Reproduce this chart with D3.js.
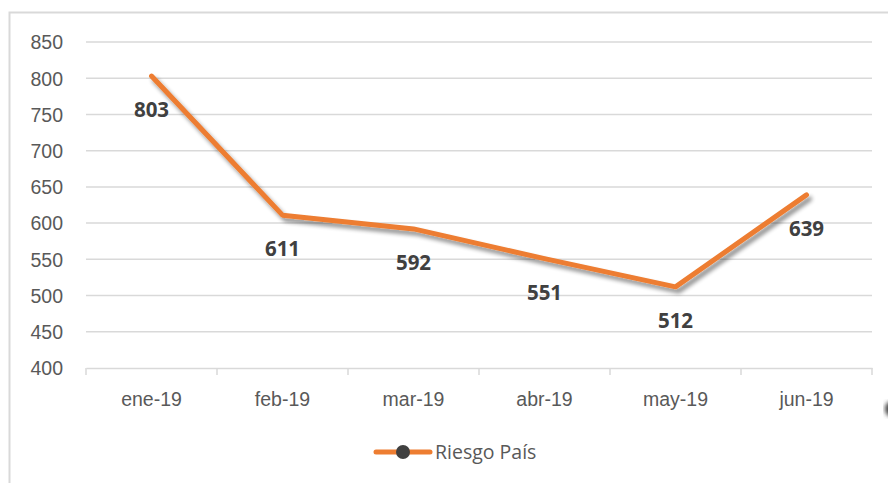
<!DOCTYPE html>
<html>
<head>
<meta charset="utf-8">
<script src="https://cdn.jsdelivr.net/npm/d3@7/dist/d3.min.js"></script>
<style>
  body { margin: 0; background: #fff; }
  svg { display: block; font-family: "Open Sans", "Noto Sans", sans-serif; }
</style>
</head>
<body>
<div id="chart"></div>
<script>
const months = ["ene-19", "feb-19", "mar-19", "abr-19", "may-19", "jun-19"];
const riesgo = [803, 611, 592, 551, 512, 639];
const yTicks = [400, 450, 500, 550, 600, 650, 700, 750, 800, 850];
const seriesName = "Riesgo País";

const W = 888, H = 483;
const plot = { left: 86, right: 872, top: 42, bottom: 368 };

const svg = d3.select("#chart").append("svg")
    .attr("width", W)
    .attr("height", H);

const defs = svg.append("defs");
const shadow = defs.append("filter").attr("id", "shadow")
    .attr("x", "-20%").attr("y", "-20%").attr("width", "140%").attr("height", "140%");
shadow.append("feGaussianBlur").attr("in", "SourceAlpha").attr("stdDeviation", 2.2);
shadow.append("feOffset").attr("dx", 3).attr("dy", 4).attr("result", "b");
shadow.append("feComponentTransfer").append("feFuncA").attr("type", "linear").attr("slope", 0.45);
const merge = shadow.append("feMerge");
merge.append("feMergeNode");
merge.append("feMergeNode").attr("in", "SourceGraphic");

const blur = defs.append("filter").attr("id", "blur");
blur.append("feGaussianBlur").attr("stdDeviation", 2);

// chart area border
svg.append("rect")
    .attr("x", 9.5).attr("y", 12.5)
    .attr("width", W + 20).attr("height", H + 20)
    .attr("fill", "none")
    .attr("stroke", "#d9d9d9")
    .attr("stroke-width", 2);

const x = d3.scaleBand().domain(months).range([plot.left, plot.right]);
const y = d3.scaleLinear().domain([400, 850]).range([plot.bottom, plot.top]);

// gridlines
svg.append("g")
    .selectAll("line")
    .data(yTicks.filter(t => t > 400))
    .join("line")
    .attr("x1", plot.left).attr("x2", plot.right)
    .attr("y1", d => y(d)).attr("y2", d => y(d))
    .attr("stroke", "#d9d9d9")
    .attr("stroke-width", 1.5);

// y axis labels
const yAxis = svg.append("g")
    .attr("transform", `translate(${plot.left - 23},0)`)
    .call(d3.axisLeft(y).tickValues(yTicks).tickSize(0).tickPadding(0));
yAxis.select(".domain").remove();
yAxis.selectAll("text")
    .attr("fill", "#595959")
    .style("font-size", "19.5px")
    .attr("dy", "0.35em");

// x axis
const xAxis = svg.append("g")
    .attr("transform", `translate(0,${plot.bottom})`)
    .call(d3.axisBottom(x).tickSize(0).tickPadding(24));
xAxis.select(".domain")
    .attr("stroke", "#d9d9d9")
    .attr("stroke-width", 1.5);
xAxis.selectAll("text")
    .attr("fill", "#595959")
    .style("font-size", "19.5px");

// category separators on x axis
svg.append("g")
    .selectAll("line")
    .data(months.map(m => x(m)).concat([plot.right]))
    .join("line")
    .attr("x1", d => d).attr("x2", d => d)
    .attr("y1", plot.bottom).attr("y2", plot.bottom + 7)
    .attr("stroke", "#d9d9d9")
    .attr("stroke-width", 1.5);

// line
const line = d3.line()
    .x((d, i) => x(months[i]) + x.bandwidth() / 2)
    .y(d => y(d));

svg.append("path")
    .datum(riesgo)
    .attr("d", line)
    .attr("fill", "none")
    .attr("stroke", "#ed7d31")
    .attr("stroke-width", 5)
    .attr("stroke-linecap", "round")
    .attr("stroke-linejoin", "round")
    .attr("filter", "url(#shadow)");

// data labels
svg.append("g")
    .selectAll("text")
    .data(riesgo)
    .join("text")
    .attr("x", (d, i) => x(months[i]) + x.bandwidth() / 2)
    .attr("y", d => y(d) + 34)
    .attr("dy", "0.35em")
    .attr("text-anchor", "middle")
    .attr("fill", "#404040")
    .style("font-size", "20.5px")
    .style("font-weight", "bold")
    .text(d => d);

// legend
const lg = svg.append("g").attr("transform", "translate(376,452)");
lg.append("line")
    .attr("x1", 0).attr("x2", 54)
    .attr("y1", 0).attr("y2", 0)
    .attr("stroke", "#ed7d31")
    .attr("stroke-width", 5)
    .attr("stroke-linecap", "round");
lg.append("circle")
    .attr("cx", 27).attr("cy", 0).attr("r", 7)
    .attr("fill", "#404040");
lg.append("text")
    .attr("x", 59).attr("y", 0)
    .attr("dy", "0.35em")
    .attr("fill", "#595959")
    .style("font-size", "19.5px")
    .text(seriesName);

// stray marker cut off at the right edge
svg.append("circle")
    .attr("cx", 893).attr("cy", 409).attr("r", 8)
    .attr("fill", "#404040")
    .attr("filter", "url(#blur)");
</script>
</body>
</html>
